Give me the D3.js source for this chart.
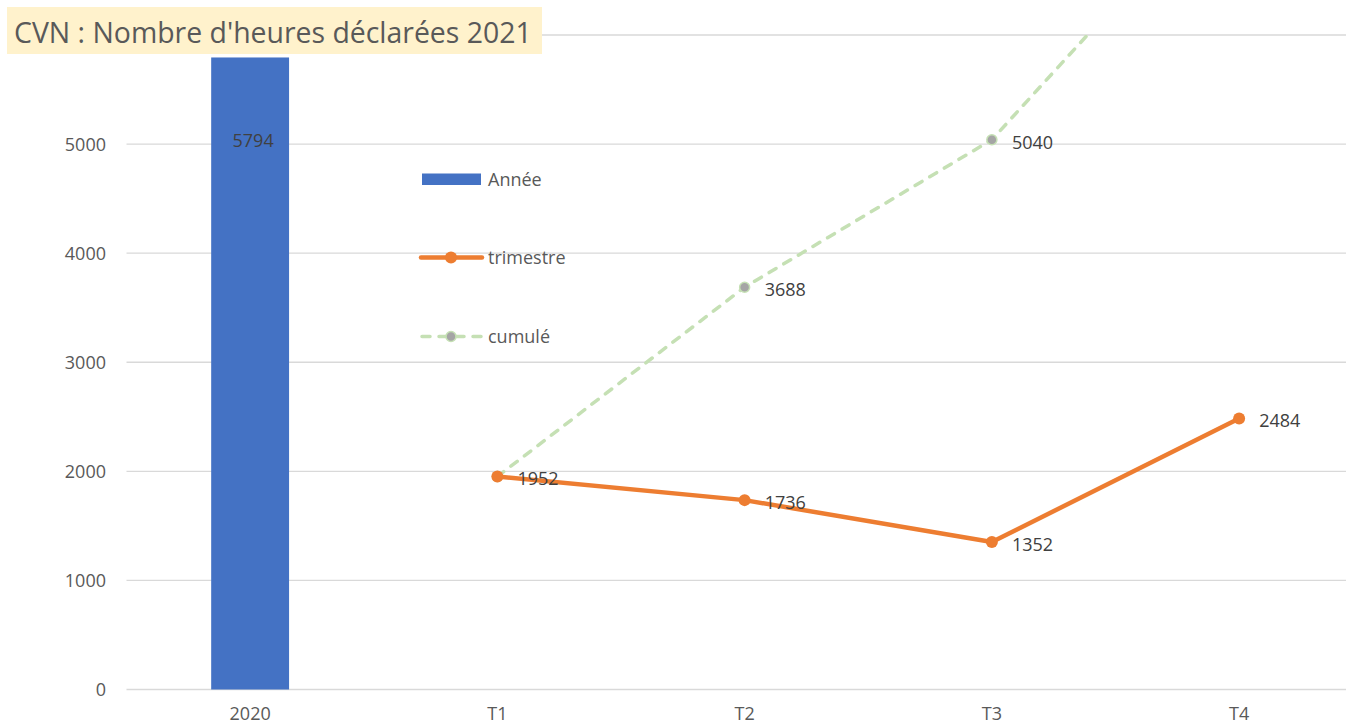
<!DOCTYPE html>
<html>
<head>
<meta charset="utf-8">
<script src="https://cdn.jsdelivr.net/npm/d3@7"></script>
<style>
  html, body { margin: 0; padding: 0; background: #fff; overflow: hidden; }
  svg { display: block; }
  text { font-family: "Open Sans", "Noto Sans", sans-serif; }
</style>
</head>
<body>
<svg id="chart" width="1346" height="726"></svg>
<script>
const titleText = "CVN : Nombre d'heures déclarées 2021";
const categories = ["2020", "T1", "T2", "T3", "T4"];
const anneeValues = [5794, null, null, null, null];
const trimestreValues = [null, 1952, 1736, 1352, 2484];
const cumuleValues = [null, 1952, 3688, 5040, 7524];
const gridValues = [0, 1000, 2000, 3000, 4000, 5000, 6000];
const yTickLabels = [0, 1000, 2000, 3000, 4000, 5000];
const legendLabels = ["Année", "trimestre", "cumulé"];

const colors = { annee: "#4472C4", trim: "#ED7D31", cumLine: "#C5E0B4", cumMarker: "#A5A5A5",
                 grid: "#D9D9D9", axisText: "#595959", label: "#404040", titleBg: "#FFF2CC" };

const svg = d3.select("#chart");
const W = 1346, H = 726;
const plot = { left: 126.5, right: 1362.75, top: 35, bottom: 689.5 };

const x = d3.scaleBand().domain(categories).range([plot.left, plot.right]).padding(0);
const y = d3.scaleLinear().domain([0, 6000]).range([plot.bottom, plot.top]);
const cx = c => x(c) + x.bandwidth() / 2;

// gridlines
svg.append("g").selectAll("line").data(gridValues).join("line")
  .attr("x1", plot.left).attr("x2", W)
  .attr("y1", d => y(d)).attr("y2", d => y(d))
  .attr("stroke", colors.grid).attr("stroke-width", 1.3);

// y axis labels
const yAxis = d3.axisLeft(y).tickValues(yTickLabels).tickSize(0).tickPadding(0).tickFormat(d3.format("d"));
const ya = svg.append("g").attr("transform", `translate(106,0)`).call(yAxis);
ya.select(".domain").remove();
ya.selectAll("text").attr("fill", colors.axisText).style("font-size", "18px")
  .style("font-family", "'Open Sans', sans-serif").attr("dy", "0.35em");

// x axis labels
const xAxis = d3.axisBottom(x).tickSize(0).tickPadding(0);
const xa = svg.append("g").attr("transform", `translate(0,720)`).call(xAxis);
xa.select(".domain").remove();
xa.selectAll("text").attr("fill", colors.axisText).style("font-size", "18px")
  .style("font-family", "'Open Sans', sans-serif").attr("y", 0).attr("dy", "0");

// clip
svg.append("clipPath").attr("id", "plotClip").append("rect")
  .attr("x", plot.left).attr("y", plot.top).attr("width", W - plot.left).attr("height", plot.bottom - plot.top + 10);

// bars
const barW = x.bandwidth() * 0.315;
const barData = categories.map((c, i) => ({ c, v: anneeValues[i] })).filter(d => d.v != null);
svg.append("g").selectAll("rect").data(barData).join("rect")
  .attr("x", d => cx(d.c) - barW / 2).attr("width", barW)
  .attr("y", d => y(d.v)).attr("height", d => y(0) - y(d.v))
  .attr("fill", colors.annee);
svg.append("g").selectAll("text").data(barData).join("text")
  .attr("x", d => cx(d.c) + 3).attr("y", d => y(d.v) + 83)
  .attr("dy", "0.35em").attr("text-anchor", "middle")
  .attr("fill", colors.label).style("font-size", "18px").text(d => d.v);

// cumulé line
const cumData = categories.map((c, i) => ({ c, v: cumuleValues[i] })).filter(d => d.v != null);
const line = d3.line().x(d => cx(d.c)).y(d => y(d.v));
const gc = svg.append("g").attr("clip-path", "url(#plotClip)");
gc.append("path").datum(cumData).attr("d", line)
  .attr("fill", "none").attr("stroke", colors.cumLine).attr("stroke-width", 3.5)
  .attr("stroke-dasharray", "8,9").attr("stroke-linecap", "round");

// trimestre line
const trimData = categories.map((c, i) => ({ c, v: trimestreValues[i] })).filter(d => d.v != null);
svg.append("path").datum(trimData).attr("d", line)
  .attr("fill", "none").attr("stroke", colors.trim).attr("stroke-width", 4.5)
  .attr("stroke-linejoin", "round").attr("stroke-linecap", "round");
svg.append("g").selectAll("circle").data(trimData).join("circle")
  .attr("cx", d => cx(d.c)).attr("cy", d => y(d.v)).attr("r", 6)
  .attr("fill", colors.trim);

// cumulé markers
gc.append("g").selectAll("circle").data(cumData).join("circle")
  .attr("cx", d => cx(d.c)).attr("cy", d => y(d.v)).attr("r", 5)
  .attr("fill", colors.cumMarker).attr("stroke", colors.cumLine).attr("stroke-width", 1.5);

// labels
svg.append("g").selectAll("text").data(trimData).join("text")
  .attr("x", d => cx(d.c) + 20).attr("y", d => y(d.v) + 2.5)
  .attr("dy", "0.35em").attr("fill", colors.label).style("font-size", "18px").text(d => d.v);
svg.append("g").selectAll("text").data(cumData.filter(d => d.v !== trimData.find(t => t.c === d.c).v && y(d.v) > plot.top))
  .join("text")
  .attr("x", d => cx(d.c) + 20).attr("y", d => y(d.v) + 2.5)
  .attr("dy", "0.35em").attr("fill", colors.label).style("font-size", "18px").text(d => d.v);

// legend
const lg = svg.append("g");
lg.append("rect").attr("x", 422).attr("y", 173.5).attr("width", 59).attr("height", 11.5).attr("fill", colors.annee);
lg.append("line").attr("x1", 421).attr("x2", 482).attr("y1", 257.5).attr("y2", 257.5)
  .attr("stroke", colors.trim).attr("stroke-width", 4.5).attr("stroke-linecap", "round");
lg.append("circle").attr("cx", 451).attr("cy", 257.5).attr("r", 6).attr("fill", colors.trim);
lg.append("line").attr("x1", 422).attr("x2", 482).attr("y1", 336.5).attr("y2", 336.5)
  .attr("stroke", colors.cumLine).attr("stroke-width", 3.5).attr("stroke-dasharray", "8,9").attr("stroke-linecap", "round");
lg.append("circle").attr("cx", 451).attr("cy", 336.5).attr("r", 5)
  .attr("fill", colors.cumMarker).attr("stroke", colors.cumLine).attr("stroke-width", 1.5);
lg.selectAll("text").data(legendLabels).join("text")
  .attr("x", 488).attr("y", (d, i) => [179.5, 257.5, 336.5][i]).attr("dy", "0.35em")
  .attr("fill", colors.axisText).style("font-size", "18px").text(d => d);

// title
const tg = svg.append("g");
tg.append("rect").attr("x", 7).attr("y", 7).attr("width", 535).attr("height", 47).attr("fill", colors.titleBg);
const tt = tg.append("text").attr("x", 14).attr("y", 43).attr("fill", colors.axisText)
  .style("font-size", "30px").text(titleText);
const tw = tt.node().getComputedTextLength();
tt.style("font-size", (30 * 518 / tw).toFixed(2) + "px");
</script>
</body>
</html>
